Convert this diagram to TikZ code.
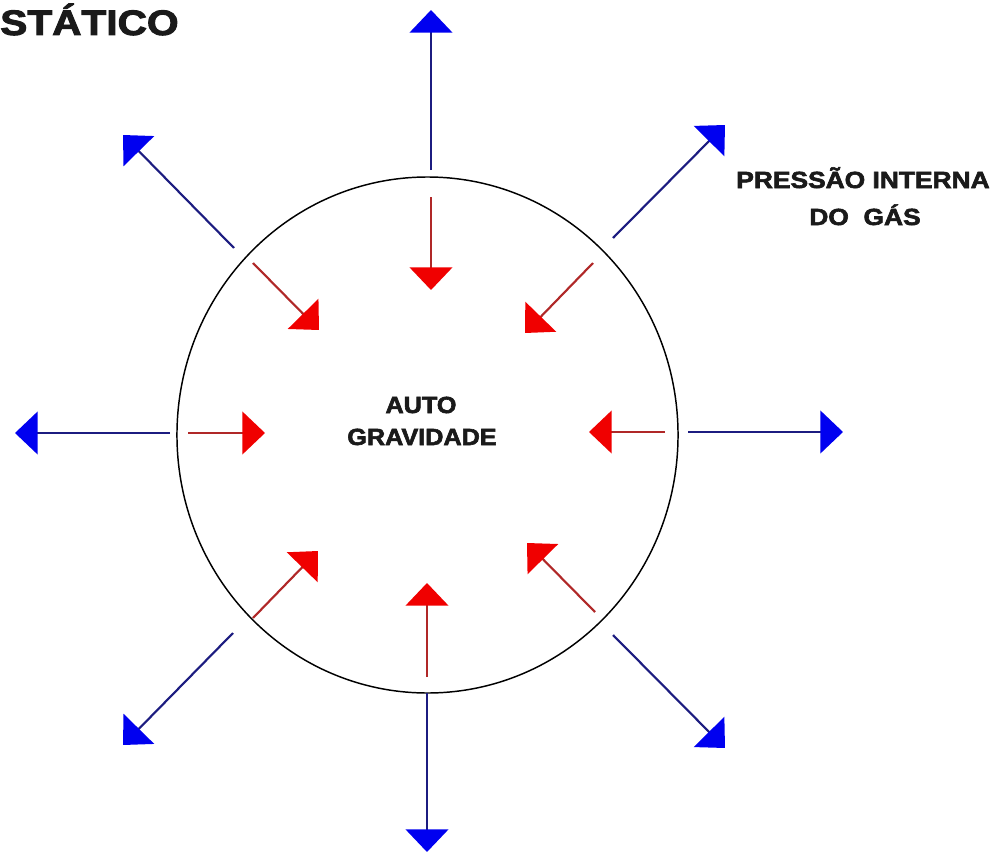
\documentclass[tikz,border=0pt]{standalone}
\usepackage{fontspec}
\usepackage{graphicx}
\usetikzlibrary{arrows.meta}
\newfontfamily\lblfont{Liberation Sans Bold}[FakeBold=2.5]
\definecolor{bluehead}{RGB}{0,0,240}
\definecolor{blueline}{RGB}{28,28,128}
\definecolor{redhead}{RGB}{240,0,0}
\definecolor{redline}{RGB}{176,40,40}
\definecolor{txtcol}{RGB}{26,26,26}
\newcommand{\hstr}[2]{\scalebox{#1}[1]{#2}}
\begin{document}
\begin{tikzpicture}[x=0.75pt,y=-0.75pt,
  outb/.style={draw=blueline, line width=1.6pt, -{Triangle[length=17pt,width=32pt,color=bluehead]}},
  inr/.style={draw=redline, line width=1.6pt, -{Triangle[length=17pt,width=32pt,color=redhead]}},
  lbl/.style={inner sep=0pt, anchor=base, text=txtcol, font=\lblfont\fontsize{17.5}{20}\selectfont}]
\useasboundingbox (0,0) rectangle (1001,853);
\draw[line width=1.1pt] (427.5,435) ellipse [x radius=187.9pt, y radius=193.5pt];
% blue outward arrows
\coordinate (bTa) at (431,170);  \coordinate (bTb) at (431,10);
\coordinate (bTRa) at (613,238); \coordinate (bTRb) at (725,125);
\coordinate (bRa) at (688,432);  \coordinate (bRb) at (843,432);
\coordinate (bBRa) at (613,635); \coordinate (bBRb) at (725,748);
\coordinate (bBa) at (427,693);  \coordinate (bBb) at (427,852);
\coordinate (bBLa) at (233,633); \coordinate (bBLb) at (123,745);
\coordinate (bLa) at (170,433);  \coordinate (bLb) at (15,433);
\coordinate (bTLa) at (234,248); \coordinate (bTLb) at (123,135);
\foreach \n in {T,TR,R,BR,B,BL,L,TL} \draw[outb] (b\n a) -- (b\n b);
% red inward arrows
\coordinate (rTa) at (431,197);  \coordinate (rTb) at (431,290);
\coordinate (rTRa) at (593,263); \coordinate (rTRb) at (525,333);
\coordinate (rRa) at (665,432);  \coordinate (rRb) at (589,432);
\coordinate (rBRa) at (595,612); \coordinate (rBRb) at (527,543);
\coordinate (rBa) at (427,677);  \coordinate (rBb) at (427,583);
\coordinate (rBLa) at (253,618); \coordinate (rBLb) at (318,551);
\coordinate (rLa) at (188,433);  \coordinate (rLb) at (265,433);
\coordinate (rTLa) at (253,263); \coordinate (rTLb) at (319,330);
\foreach \n in {T,TR,R,BR,B,BL,L,TL} \draw[inr] (r\n a) -- (r\n b);
% labels
\node[lbl, anchor=base west, font=\lblfont\fontsize{26.5}{30}\selectfont] (titulo) at (0,35) {\hstr{1.15}{STÁTICO}};
\node[lbl] (press1) at (863,188) {\hstr{1.13}{PRESSÃO INTERNA}};
\node[lbl] (press2) at (865,225) {\hstr{1.13}{DO\ \ GÁS}};
\node[lbl] (auto1) at (421,413) {\hstr{1.08}{AUTO}};
\node[lbl] (auto2) at (422,445) {\hstr{1.08}{GRAVIDADE}};
\end{tikzpicture}
\end{document}
